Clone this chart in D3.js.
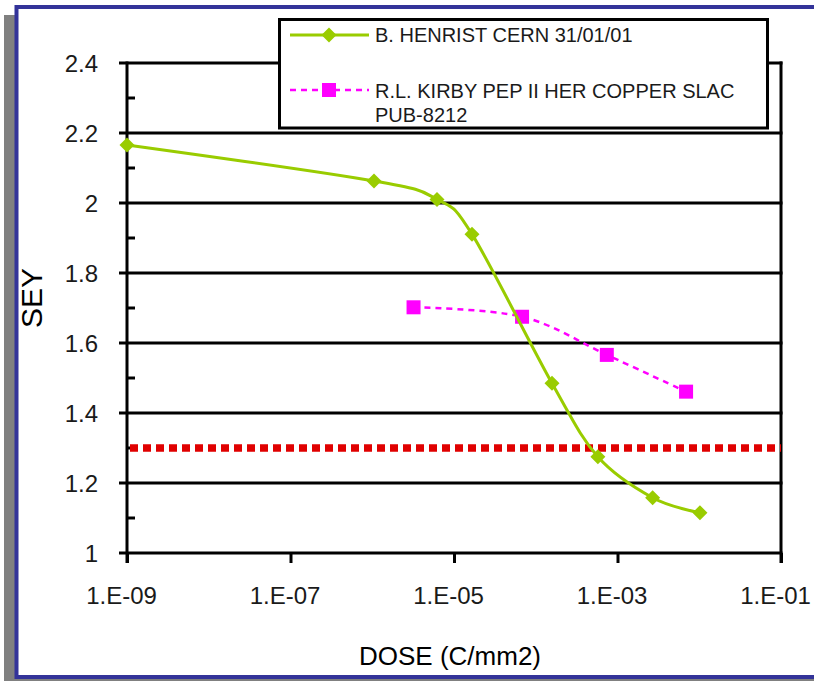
<!DOCTYPE html>
<html>
<head>
<meta charset="utf-8">
<script src="https://cdn.jsdelivr.net/npm/d3@7"></script>
<style>
  html, body { margin: 0; padding: 0; background: #fff; }
  svg { display: block; }
  text { font-family: "Liberation Sans", Arial, sans-serif; }
</style>
</head>
<body>
<svg id="chart" width="814" height="681"></svg>
<script>
// ---- data ----
const henristDose = [1e-9, 1.05e-6, 6.2e-6, 1.66e-5, 1.58e-4, 5.75e-4, 2.69e-3, 1.02e-2];
const henristSEY  = [2.166, 2.063, 2.010, 1.911, 1.485, 1.275, 1.158, 1.115];
const kirbyDose   = [3.2e-6, 6.8e-5, 7.4e-4, 6.9e-3];
const kirbySEY    = [1.702, 1.675, 1.566, 1.461];
const thresholdSEY = 1.3;
const thresholdDose = [1e-9, 1e-1];
const xTicks = [1e-9, 1e-7, 1e-5, 1e-3, 1e-1];
const yTicks = [1.0, 1.2, 1.4, 1.6, 1.8, 2.0, 2.2, 2.4];
const yMinorTicks = [1.1, 1.3, 1.5, 1.7, 1.9, 2.1, 2.3];
const seriesNames = ["B. HENRIST CERN 31/01/01", ["R.L. KIRBY PEP II HER COPPER SLAC", "PUB-8212"]];
const xTitle = "DOSE (C/mm2)";
const yTitle = "SEY";

const svg = d3.select("#chart");

// frame: grey shadow + blue border
svg.append("rect").attr("x", 4).attr("y", 15).attr("width", 830).attr("height", 700).attr("fill", "#808080");
svg.append("rect").attr("x", 16.5).attr("y", 7).attr("width", 820).attr("height", 670)
  .attr("fill", "#fff").attr("stroke", "#333399").attr("stroke-width", 4);

const x = d3.scaleLog().domain([1e-9, 1e-1]).range([127, 781]);
const y = d3.scaleLinear().domain([1, 2.4]).range([553, 63]);

// gridlines
svg.append("g").selectAll("line").data(yTicks).join("line")
  .attr("x1", x(1e-9) - 8).attr("x2", x(1e-1) + 1.5)
  .attr("y1", d => y(d)).attr("y2", d => y(d))
  .attr("stroke", "#000").attr("stroke-width", 3);

// right border
svg.append("line").attr("x1", x(1e-1)).attr("x2", x(1e-1)).attr("y1", y(2.4) - 1.5).attr("y2", y(1) + 10)
  .attr("stroke", "#000").attr("stroke-width", 3);

// y axis
const yAxis = d3.axisLeft(y).tickValues(yTicks).tickSizeInner(0).tickSizeOuter(0).tickPadding(29)
  .tickFormat(d => d === 1 || d === 2 ? d3.format("d")(d) : d3.format(".1f")(d));
const gy = svg.append("g").attr("transform", `translate(${x(1e-9)},0)`).call(yAxis);
gy.select(".domain").remove();
gy.selectAll("text").attr("font-size", 24).attr("fill", "#1a1a1a").attr("dy", "0.36em");
svg.append("line").attr("x1", x(1e-9)).attr("x2", x(1e-9)).attr("y1", y(2.4) - 1.5).attr("y2", y(1) + 10)
  .attr("stroke", "#000").attr("stroke-width", 3);
svg.append("g").selectAll("line").data(yMinorTicks).join("line")
  .attr("x1", x(1e-9)).attr("x2", x(1e-9) + 8)
  .attr("y1", d => y(d)).attr("y2", d => y(d))
  .attr("stroke", "#000").attr("stroke-width", 3);

// x axis
const fmtExp = d => { const e = Math.round(Math.log10(d)); return "1.E" + (e < 0 ? "-" : "+") + String(Math.abs(e)).padStart(2, "0"); };
const xAxis = d3.axisBottom(x).tickValues(xTicks).tickSize(10).tickSizeOuter(0).tickPadding(24).tickFormat(fmtExp);
const gx = svg.append("g").attr("transform", `translate(0,${y(1)})`).call(xAxis);
gx.select(".domain").remove();
gx.selectAll("line").attr("stroke", "#000").attr("stroke-width", 3);
gx.selectAll("text").attr("font-size", 24).attr("fill", "#1a1a1a").attr("dx", -6);

// threshold dotted line
svg.append("line")
  .attr("x1", x(thresholdDose[0]) + 3).attr("x2", x(thresholdDose[1]))
  .attr("y1", y(thresholdSEY)).attr("y2", y(thresholdSEY))
  .attr("stroke", "#e00000").attr("stroke-width", 7.5).attr("stroke-dasharray", "8,5");

// Kirby series
const kirby = kirbyDose.map((d, i) => [d, kirbySEY[i]]);
const lineGen = d3.line().x(d => x(d[0])).y(d => y(d[1])).curve(d3.curveCardinal.tension(0));
svg.append("path").datum(kirby).attr("d", lineGen).attr("fill", "none")
  .attr("stroke", "#ff00ff").attr("stroke-width", 2.5).attr("stroke-dasharray", "6,5");
svg.append("g").selectAll("rect").data(kirby).join("rect")
  .attr("x", d => x(d[0]) - 7).attr("y", d => y(d[1]) - 7).attr("width", 14).attr("height", 14)
  .attr("fill", "#ff00ff");

// Henrist series
const henrist = henristDose.map((d, i) => [d, henristSEY[i]]);
svg.append("path").datum(henrist).attr("d", lineGen).attr("fill", "none")
  .attr("stroke", "#99cc00").attr("stroke-width", 3);
const diamond = "M0,-7.5L7.5,0L0,7.5L-7.5,0Z";
svg.append("g").selectAll("path").data(henrist).join("path")
  .attr("transform", d => `translate(${x(d[0])},${y(d[1])})`).attr("d", diamond).attr("fill", "#99cc00");

// legend
svg.append("rect").attr("x", 279.5).attr("y", 19.5).attr("width", 488).attr("height", 108.5)
  .attr("fill", "#fff").attr("stroke", "#000").attr("stroke-width", 3);
svg.append("line").attr("x1", 290).attr("x2", 369).attr("y1", 35).attr("y2", 35)
  .attr("stroke", "#99cc00").attr("stroke-width", 3);
svg.append("path").attr("transform", "translate(329,35)").attr("d", diamond).attr("fill", "#99cc00");
svg.append("text").attr("x", 375).attr("y", 42).attr("font-size", 20).attr("fill", "#1a1a1a").text(seriesNames[0]);
svg.append("line").attr("x1", 290).attr("x2", 369).attr("y1", 90).attr("y2", 90)
  .attr("stroke", "#ff00ff").attr("stroke-width", 2.5).attr("stroke-dasharray", "6,5");
svg.append("rect").attr("x", 322).attr("y", 83).attr("width", 14).attr("height", 14).attr("fill", "#ff00ff");
const t2 = svg.append("text").attr("x", 375).attr("y", 98).attr("font-size", 20).attr("fill", "#1a1a1a");
t2.selectAll("tspan").data(seriesNames[1]).join("tspan")
  .attr("x", 375).attr("dy", (d, i) => i === 0 ? 0 : 24).text(d => d);

// axis titles
svg.append("text").attr("x", 450).attr("y", 665).attr("text-anchor", "middle")
  .attr("font-size", 26).attr("fill", "#000").text(xTitle);
svg.append("text").attr("transform", "translate(42,298) rotate(-90)").attr("text-anchor", "middle")
  .attr("font-size", 30).attr("fill", "#000").text(yTitle);
</script>
</body>
</html>
